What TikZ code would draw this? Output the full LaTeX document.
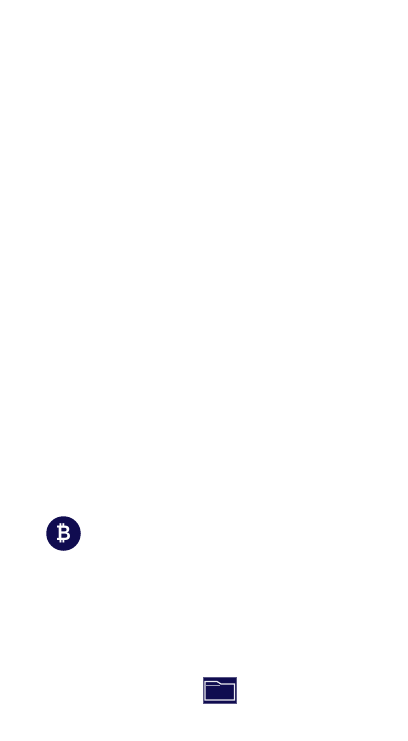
\documentclass[tikz,border=0pt]{standalone}
\usepackage{fontspec}
\newfontfamily\coinfont[FakeStretch=0.88]{Liberation Sans Bold}
\definecolor{navy}{HTML}{100C50}
\tikzset{
  coin/.style={circle,fill=navy,draw=none,minimum size=34.5pt,inner sep=0pt,text=white,font=\coinfont\fontsize{21}{21}\selectfont},
  folderbody/.style={rectangle,fill=navy,draw=navy!70,line width=.6pt,minimum width=33.5pt,minimum height=25.5pt,inner sep=0pt},
  folderline/.style={draw=white!92!navy,line width=1.2pt,line join=miter}
}
\begin{document}
\begin{tikzpicture}[x=1pt,y=-1pt]
\useasboundingbox (0,0) rectangle (407,741);
\fill[white] (0,0) rectangle (407,741);
\node[coin] (bitcoin) at (63.5,533.5) {₿};
\node[folderbody] (folder) at (220,690.5) {};
\draw[folderline] (205,700) -- (205,681.5) -- (217,681.5) -- (221,684) -- (234.5,684) -- (234.5,700) -- cycle;
\draw[folderline,draw=white!60!navy] (205,685.5) -- (219.5,685.5);
\end{tikzpicture}
\end{document}
